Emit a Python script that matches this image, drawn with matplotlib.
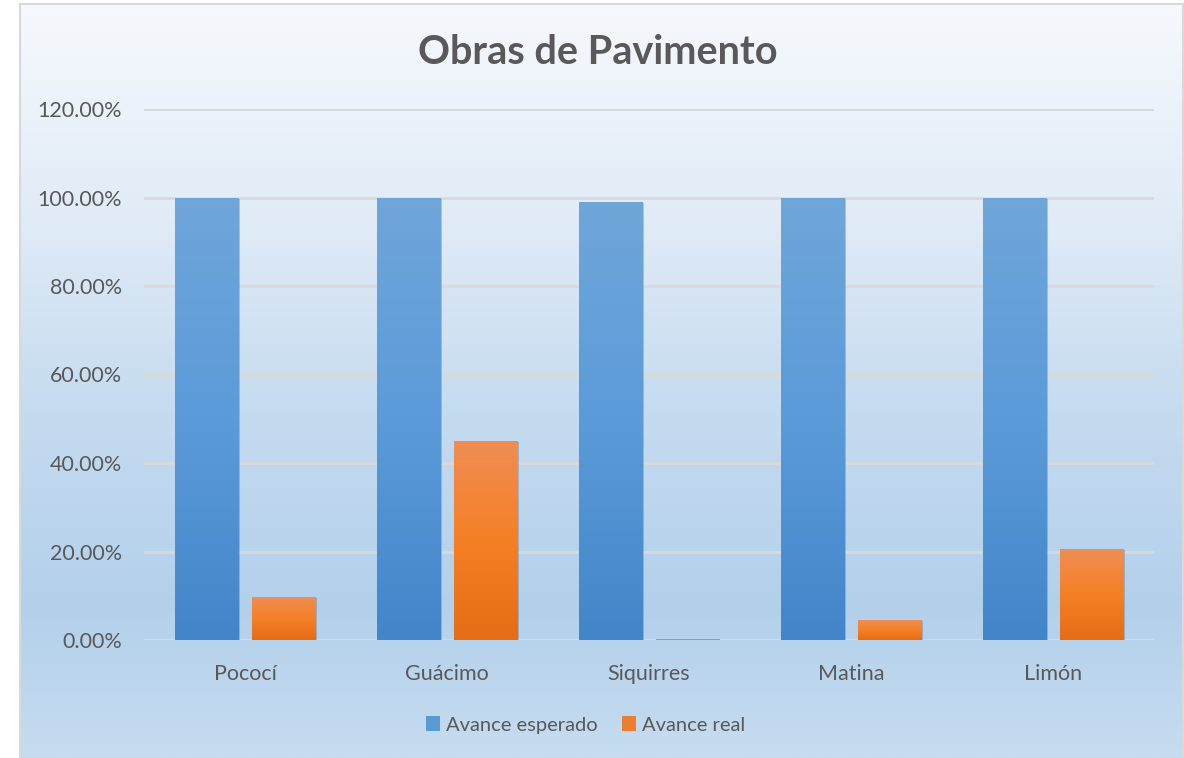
import numpy as np
import matplotlib.pyplot as plt
from matplotlib.colors import LinearSegmentedColormap
from matplotlib.patches import Rectangle
import matplotlib.patheffects as pe

plt.rcParams['font.family'] = ['Lato', 'DejaVu Sans']

# Data
cantones = ["Pococí", "Guácimo", "Siquirres", "Matina", "Limón"]
avance_esperado = [1.00, 1.00, 0.99, 1.00, 1.00]
avance_real = [0.097, 0.45, 0.002, 0.045, 0.206]
ticks = [0.0, 0.2, 0.4, 0.6, 0.8, 1.0, 1.2]

W, H = 1184, 758
fig = plt.figure(figsize=(W / 100, H / 100), dpi=100, facecolor="white")

# chart background box with vertical gradient
bg = fig.add_axes([20 / W, 0, 1 - 21 / W, (H - 4) / H])
bg_cmap = LinearSegmentedColormap.from_list("bg", [
    (0.0, "#f6f9fd"), (0.27, "#e2ecf7"), (0.53, "#c6dcf0"),
    (0.80, "#b3d0eb"), (1.0, "#c6dcf0")])
bg.imshow(np.linspace(0, 1, 256).reshape(-1, 1), aspect="auto", cmap=bg_cmap,
          extent=[0, 1, 0, 1])
bg.set_xlim(0, 1)
bg.set_ylim(0, 1)
bg.set_xticks([])
bg.set_yticks([])
for s in bg.spines.values():
    s.set_color("#d9d9d9")
    s.set_linewidth(1.5)
bg.spines["bottom"].set_visible(False)

ax = fig.add_axes([144 / W, 118 / H, 1010 / W, 531 / H])
ax.set_facecolor("none")

x = np.arange(len(cantones))
width = 0.312
off = 0.19

blue_cmap = LinearSegmentedColormap.from_list("b", ["#4385c9", "#5b9bd9", "#70a6da"])
orange_cmap = LinearSegmentedColormap.from_list("o", ["#e66c17", "#f58025", "#f08d55"])


def gradient_bars(xs, vals, cmap):
    bars = ax.bar(xs, vals, width=width, color="#8da3b8", zorder=2)
    for b in bars:
        # soft shadow behind the bar
        b.set_path_effects([pe.SimplePatchShadow(offset=(1.5, -1), alpha=0.3,
                                                 shadow_rgbFace="#4a5d70")])
        x0, y0 = b.get_x(), b.get_y()
        w, h = b.get_width(), b.get_height()
        im = ax.imshow(np.linspace(0, 1, 256).reshape(-1, 1), aspect="auto",
                       cmap=cmap, origin="lower",
                       extent=[x0, x0 + w, y0, y0 + max(h, 1e-6)], zorder=3)
        clip = Rectangle((x0, y0), w, h, transform=ax.transData)
        im.set_clip_path(clip)
    return bars

gradient_bars(x - off, avance_esperado, blue_cmap)
gradient_bars(x + off, avance_real, orange_cmap)

ax.set_xlim(-0.5, len(cantones) - 0.5)
ax.set_ylim(0, 1.2)
ax.set_yticks(ticks)
ax.set_yticklabels([f"{t * 100:.2f}%" for t in ticks])
ax.set_xticks(x)
ax.set_xticklabels(cantones)
ax.tick_params(axis="both", length=0, labelsize=15.5, colors="#595959")
ax.tick_params(axis="y", pad=16)
ax.tick_params(axis="x", pad=17)
ax.yaxis.grid(True, color="#d9d9d9", linewidth=2, zorder=1)
ax.set_axisbelow(True)
for s in ax.spines.values():
    s.set_visible(False)
ax.axhline(0, color="#d9d9d9", linewidth=2, zorder=1)

fig.text(598 / W, 1 - 52 / H, "Obras de Pavimento", ha="center", va="center",
         fontsize=28.5, fontweight="bold", color="#595959")

handles = [Rectangle((0, 0), 1, 1, facecolor="#5b9bd5"),
           Rectangle((0, 0), 1, 1, facecolor="#ed7d31")]
fig.legend(handles, ["Avance esperado", "Avance real"], loc="center",
           bbox_to_anchor=(586 / W, 1 - 725 / H), ncol=2, frameon=False,
           fontsize=14.5, labelcolor="#595959", handlelength=0.7,
           handleheight=0.7, handletextpad=0.3, columnspacing=1.2)

fig.savefig("out.png", dpi=100)
